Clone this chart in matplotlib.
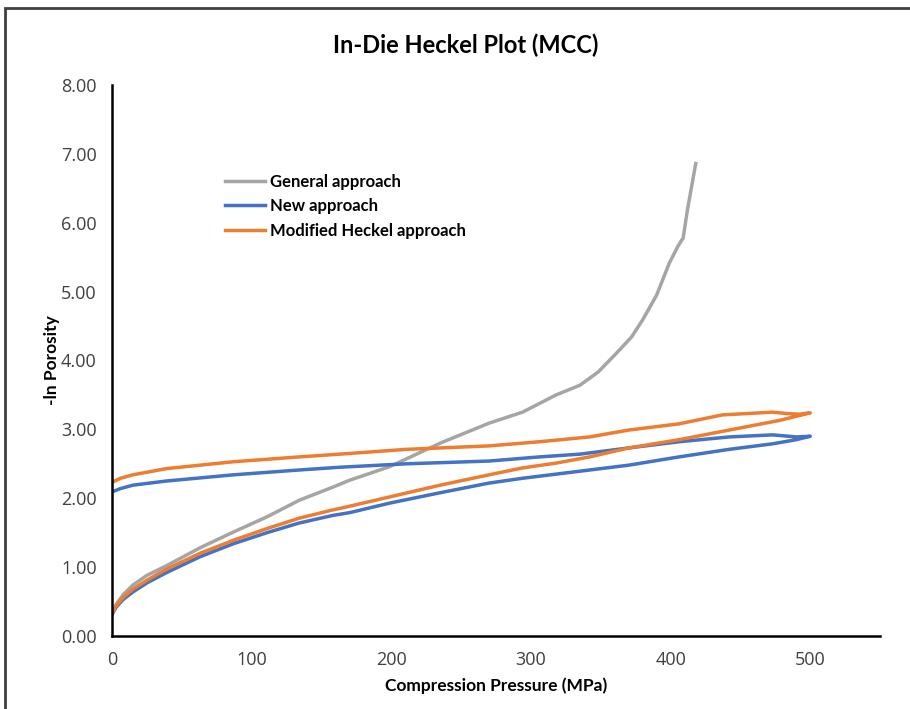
import matplotlib
matplotlib.use("Agg")
import matplotlib.pyplot as plt
from matplotlib.patches import Rectangle

# tick labels in Open Sans, the rest in Lato
plt.rcParams['font.family'] = ['Open Sans', 'DejaVu Sans']
lato = ['Lato', 'DejaVu Sans']

# General approach (loading only)
gen_p = [0, 3, 8, 15, 25, 39, 63, 87, 111, 134, 158, 170, 199, 235, 270, 294,
         318, 335, 348, 360, 372, 380, 390, 399, 405, 409, 412, 418]
gen_y = [0.33, 0.46, 0.60, 0.74, 0.88, 1.02, 1.28, 1.51, 1.73, 1.97, 2.16, 2.26,
         2.46, 2.80, 3.09, 3.25, 3.50, 3.64, 3.83, 4.08, 4.34, 4.59, 4.95, 5.41,
         5.65, 5.78, 6.18, 6.86]

# New approach: loading then unloading
new_p = [0, 3, 8, 15, 25, 39, 63, 87, 111, 134, 158, 170, 199, 235, 270, 294,
         318, 342, 370, 406, 442, 473, 490, 500,
         490, 473, 442, 406, 370, 335, 306, 270, 211, 163, 134, 87, 39, 15, 6, 1]
new_y = [0.31, 0.42, 0.53, 0.64, 0.77, 0.92, 1.15, 1.34, 1.50, 1.64, 1.75, 1.79,
         1.93, 2.08, 2.22, 2.29, 2.35, 2.41, 2.48, 2.60, 2.71, 2.79, 2.85, 2.90,
         2.89, 2.92, 2.89, 2.82, 2.73, 2.64, 2.60, 2.54, 2.50, 2.45, 2.41, 2.34,
         2.25, 2.19, 2.14, 2.10]

# Modified Heckel approach: loading then unloading
mod_p = [0, 3, 8, 15, 25, 39, 63, 87, 111, 134, 158, 165, 199, 235, 270, 294,
         318, 342, 370, 406, 442, 478, 500,
         492, 483, 473, 437, 406, 370, 342, 306, 270, 211, 163, 134, 87, 39, 15,
         6, 1]
mod_y = [0.33, 0.44, 0.56, 0.68, 0.81, 0.97, 1.20, 1.39, 1.56, 1.71, 1.83, 1.86,
         2.02, 2.19, 2.34, 2.44, 2.51, 2.60, 2.73, 2.85, 2.99, 3.13, 3.24,
         3.22, 3.23, 3.25, 3.21, 3.08, 2.99, 2.89, 2.82, 2.76, 2.71, 2.64, 2.60,
         2.53, 2.43, 2.34, 2.29, 2.24]

fig = plt.figure(figsize=(9.1, 7.09), dpi=100)
ax = fig.add_axes([0.1231, 0.1030, 0.8440, 0.7771])

ax.plot(gen_p, gen_y, color="#A5A5A5", lw=2.5, label="General approach")
ax.plot(new_p, new_y, color="#4472C4", lw=2.5, label="New approach")
ax.plot(mod_p, mod_y, color="#ED7D31", lw=2.5, label="Modified Heckel approach")

ax.set_xlim(0, 550)
ax.set_ylim(0, 8)
ax.set_xticks([0, 100, 200, 300, 400, 500])
ax.set_yticks(range(9))
ax.set_yticklabels([f"{v:.2f}" for v in range(9)])
ax.tick_params(length=0, labelsize=13, colors="#404040")
ax.tick_params(axis="x", pad=11)
ax.tick_params(axis="y", pad=11)
for s in ["top", "right"]:
    ax.spines[s].set_visible(False)
for s in ["left", "bottom"]:
    ax.spines[s].set_linewidth(1.8)
    ax.spines[s].set_color("black")

ax.set_xlabel("Compression Pressure (MPa)", fontsize=12.5, fontweight="bold",
              labelpad=6, family=lato)
ax.set_ylabel("-ln Porosity", fontsize=12.5, fontweight="bold", labelpad=1,
              family=lato)
fig.text(0.512, 0.9365, "In-Die Heckel Plot (MCC)", ha="center", va="center",
         fontsize=17, fontweight="bold", family=lato)

leg = ax.legend(loc="upper left", bbox_to_anchor=(210 / 910, 1 - 159 / 709),
                bbox_transform=fig.transFigure, frameon=False, handlelength=2.4,
                handletextpad=0.3, labelspacing=0.5,
                prop={"weight": "bold", "size": 12, "family": lato})

# outer chart frame (partly cropped in the original)
fig.patches.append(Rectangle((5 / 910, -0.1), 1.2, 1.1 - 8 / 709,
                             transform=fig.transFigure, fill=False,
                             edgecolor="#404040", lw=2))

fig.savefig("out.png", dpi=100)
